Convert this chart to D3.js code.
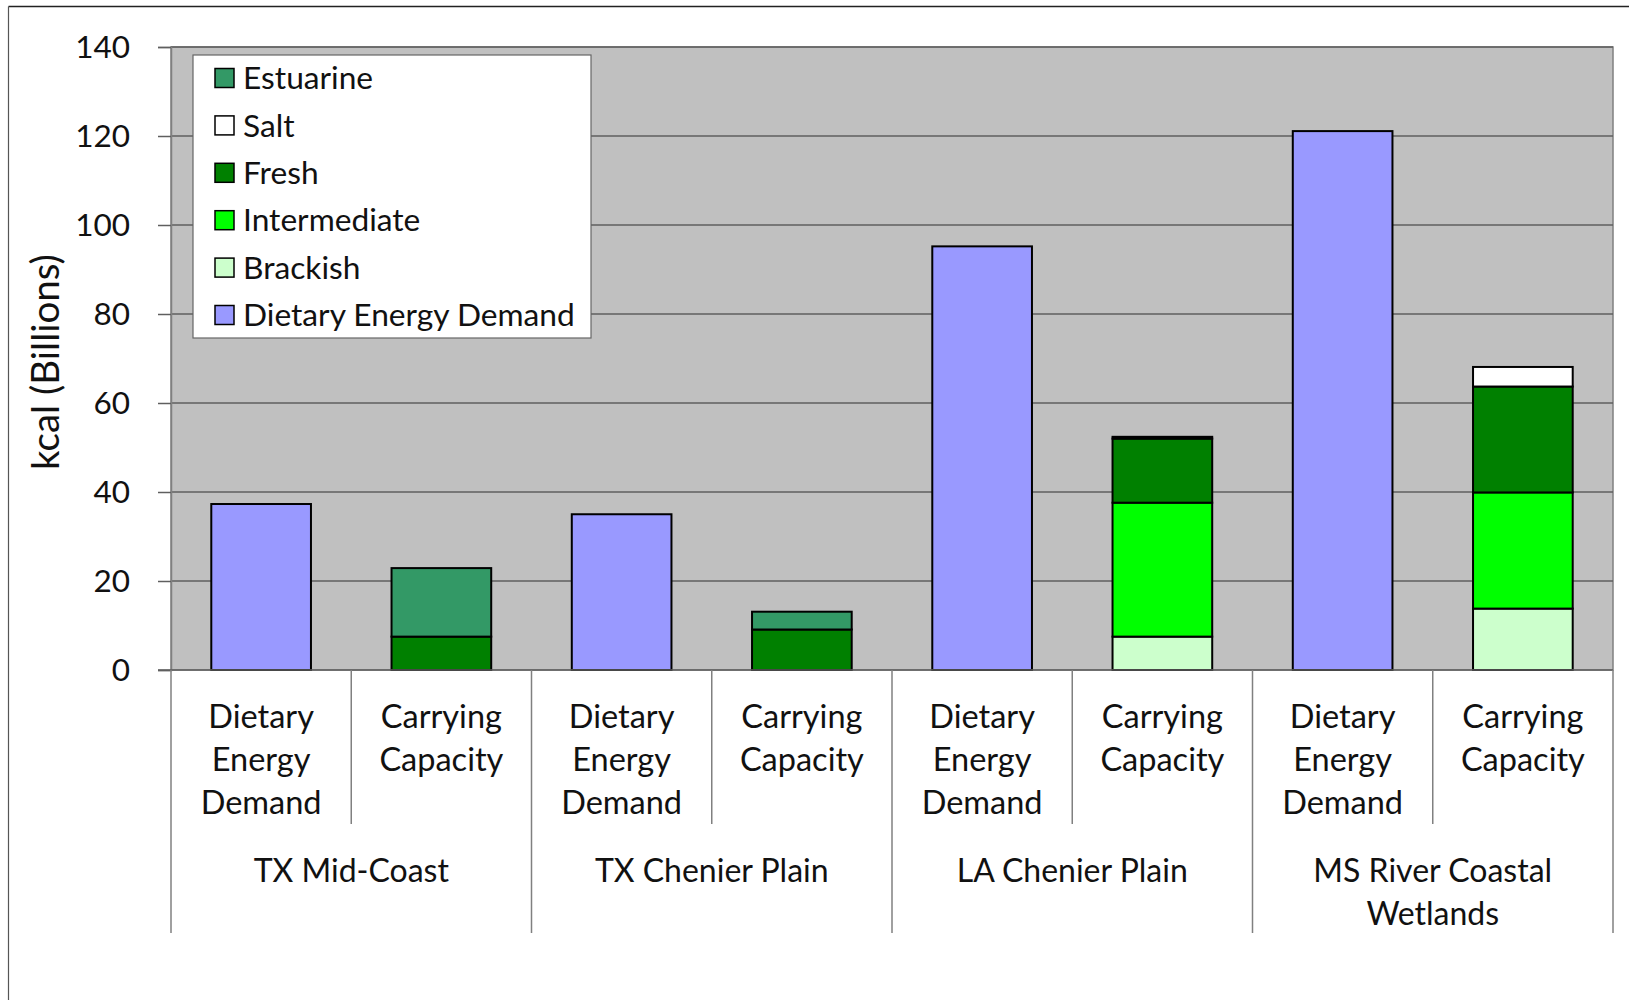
<!DOCTYPE html>
<html>
<head>
<meta charset="utf-8">
<script src="https://cdn.jsdelivr.net/npm/d3@7"></script>
<style>
  html, body { margin: 0; padding: 0; background: #ffffff; }
  svg { display: block; font-family: Lato, "Open Sans", sans-serif; }
</style>
</head>
<body>
<svg id="chart" width="1629" height="1000"></svg>
<script>
// Regions along the coast, each with a demand bar and a carrying-capacity bar
const regions = ["TX Mid-Coast", "TX Chenier Plain", "LA Chenier Plain", "MS River Coastal Wetlands"];
const regionLines = [["TX Mid-Coast"], ["TX Chenier Plain"], ["LA Chenier Plain"], ["MS River Coastal", "Wetlands"]];
const barTypes = ["Dietary Energy Demand", "Carrying Capacity"];
const barTypeLines = [["Dietary", "Energy", "Demand"], ["Carrying", "Capacity"]];

// kcal (billions), one value per bar: 8 bars = 4 regions x 2 bar types
const dietaryEnergyDemand = [37.3, 0, 35.0, 0, 95.2, 0, 121.1, 0];
const brackish            = [0, 0, 0, 0, 0, 7.5, 0, 13.8];
const intermediate        = [0, 0, 0, 0, 0, 30.1, 0, 26.1];
const fresh               = [0, 7.5, 0, 9.1, 0, 14.4, 0, 23.8];
const salt                = [0, 0, 0, 0, 0, 0.4, 0, 4.4];
const estuarine           = [0, 15.4, 0, 4.0, 0, 0, 0, 0];

// Stack order, bottom to top
const seriesNames = ["Dietary Energy Demand", "Brackish", "Intermediate", "Fresh", "Salt", "Estuarine"];
const seriesValues = [dietaryEnergyDemand, brackish, intermediate, fresh, salt, estuarine];
const seriesColors = ["#9999ff", "#ccffcc", "#00ff00", "#008000", "#ffffff", "#339966"];

const yTicks = [0, 20, 40, 60, 80, 100, 120, 140];

const svg = d3.select("#chart");
const plot = { left: 171, right: 1613, top: 47, bottom: 670 };

// Build one row per bar
const rows = [];
regions.forEach((r, ri) => {
  barTypes.forEach((b, bi) => {
    const i = ri * 2 + bi;
    const row = { key: r + "|" + b, region: r, type: b, bi: bi };
    seriesNames.forEach((s, si) => { row[s] = seriesValues[si][i]; });
    rows.push(row);
  });
});

const x = d3.scaleBand()
  .domain(rows.map(d => d.key))
  .range([plot.left, plot.right])
  .paddingInner(0.447)
  .paddingOuter(0.2235);

const y = d3.scaleLinear().domain([0, 140]).range([plot.bottom, plot.top]);

const color = d3.scaleOrdinal().domain(seriesNames).range(seriesColors);

// Outer chart frame (top and left edges visible)
svg.append("line").attr("x1", 8.5).attr("x2", 1629).attr("y1", 6.5).attr("y2", 6.5)
  .attr("stroke", "#222").attr("stroke-width", 1.5);
svg.append("line").attr("x1", 8.5).attr("x2", 8.5).attr("y1", 6.5).attr("y2", 1000)
  .attr("stroke", "#555").attr("stroke-width", 1.2);

// Plot area background
svg.append("rect")
  .attr("x", plot.left).attr("y", plot.top)
  .attr("width", plot.right - plot.left).attr("height", plot.bottom - plot.top)
  .attr("fill", "#c0c0c0").attr("stroke", "#808080").attr("stroke-width", 1.5);

// Horizontal gridlines
svg.append("g").selectAll("line")
  .data(yTicks.filter(t => t > 0))
  .join("line")
  .attr("x1", plot.left).attr("x2", plot.right)
  .attr("y1", d => y(d)).attr("y2", d => y(d))
  .attr("stroke", "#5f5f5f").attr("stroke-width", 1.5);

// Y axis
const yAxis = d3.axisLeft(y).tickValues(yTicks).tickSize(13).tickPadding(28);
const yg = svg.append("g").attr("transform", `translate(${plot.left},0)`).call(yAxis);
yg.select(".domain").attr("stroke", "#808080").attr("stroke-width", 1.5);
yg.selectAll(".tick line").attr("stroke", "#5f5f5f").attr("stroke-width", 1.5);
yg.selectAll(".tick text")
  .attr("font-size", 31.5).attr("fill", "#111").attr("font-family", "Lato, sans-serif");

// Y axis title
svg.append("text")
  .attr("transform", `translate(59,362) rotate(-90)`)
  .attr("text-anchor", "middle")
  .attr("font-size", 38.5)
  .attr("fill", "#111")
  .text("kcal (Billions)");

// Stacked bars
const stack = d3.stack().keys(seriesNames);
const stacked = stack(rows);
svg.append("g").selectAll("g")
  .data(stacked)
  .join("g")
  .attr("fill", d => color(d.key))
  .selectAll("rect")
  .data(d => d.filter(p => p[1] - p[0] > 0))
  .join("rect")
  .attr("x", d => x(d.data.key))
  .attr("width", x.bandwidth())
  .attr("y", d => y(d[1]))
  .attr("height", d => y(d[0]) - y(d[1]))
  .attr("stroke", "#000")
  .attr("stroke-width", 2);

// X axis line
svg.append("line")
  .attr("x1", plot.left - 13).attr("x2", plot.right)
  .attr("y1", plot.bottom).attr("y2", plot.bottom)
  .attr("stroke", "#5f5f5f").attr("stroke-width", 1.5);

// Category dividers below the axis
const step = x.step();
svg.append("g").selectAll("line")
  .data(rows.concat([null]))
  .join("line")
  .attr("x1", (d, i) => plot.left + i * step)
  .attr("x2", (d, i) => plot.left + i * step)
  .attr("y1", plot.bottom)
  .attr("y2", (d, i) => i % 2 === 0 ? 933 : 824)
  .attr("stroke", "#808080").attr("stroke-width", 1.5);

// Bar type labels
const lineH = 43;
const labG = svg.append("g").attr("fill", "#111").attr("text-anchor", "middle");
rows.forEach(d => {
  const cx = x(d.key) + x.bandwidth() / 2;
  const t = labG.append("text").attr("x", cx).attr("y", 728).attr("font-size", 32.5);
  barTypeLines[d.bi].forEach((ln, li) => {
    t.append("tspan").attr("x", cx).attr("dy", li === 0 ? 0 : lineH).text(ln);
  });
});

// Region labels
regions.forEach((r, ri) => {
  const k0 = rows[ri * 2].key, k1 = rows[ri * 2 + 1].key;
  const cx = (x(k0) + x(k1) + x.bandwidth()) / 2;
  const t = labG.append("text").attr("x", cx).attr("y", 882).attr("font-size", 32);
  regionLines[ri].forEach((ln, li) => {
    t.append("tspan").attr("x", cx).attr("dy", li === 0 ? 0 : lineH).text(ln);
  });
});

// Legend (top entry is the last stacked series)
const legend = { x: 193, y: 55, w: 398, h: 283 };
svg.append("rect")
  .attr("x", legend.x).attr("y", legend.y).attr("width", legend.w).attr("height", legend.h)
  .attr("fill", "#fff").attr("stroke", "#666").attr("stroke-width", 1.2);
const legendItems = seriesNames.slice().reverse();
const lg = svg.append("g").selectAll("g")
  .data(legendItems)
  .join("g")
  .attr("transform", (d, i) => `translate(${legend.x + 22},${legend.y + 23 + i * 47.4})`);
lg.append("rect")
  .attr("x", 0).attr("y", -9.5).attr("width", 19).attr("height", 19)
  .attr("fill", d => color(d)).attr("stroke", "#000").attr("stroke-width", 1.5);
lg.append("text")
  .attr("x", 28).attr("y", 0).attr("dy", "0.35em")
  .attr("font-size", 31.7).attr("fill", "#111")
  .text(d => d);
</script>
</body>
</html>
